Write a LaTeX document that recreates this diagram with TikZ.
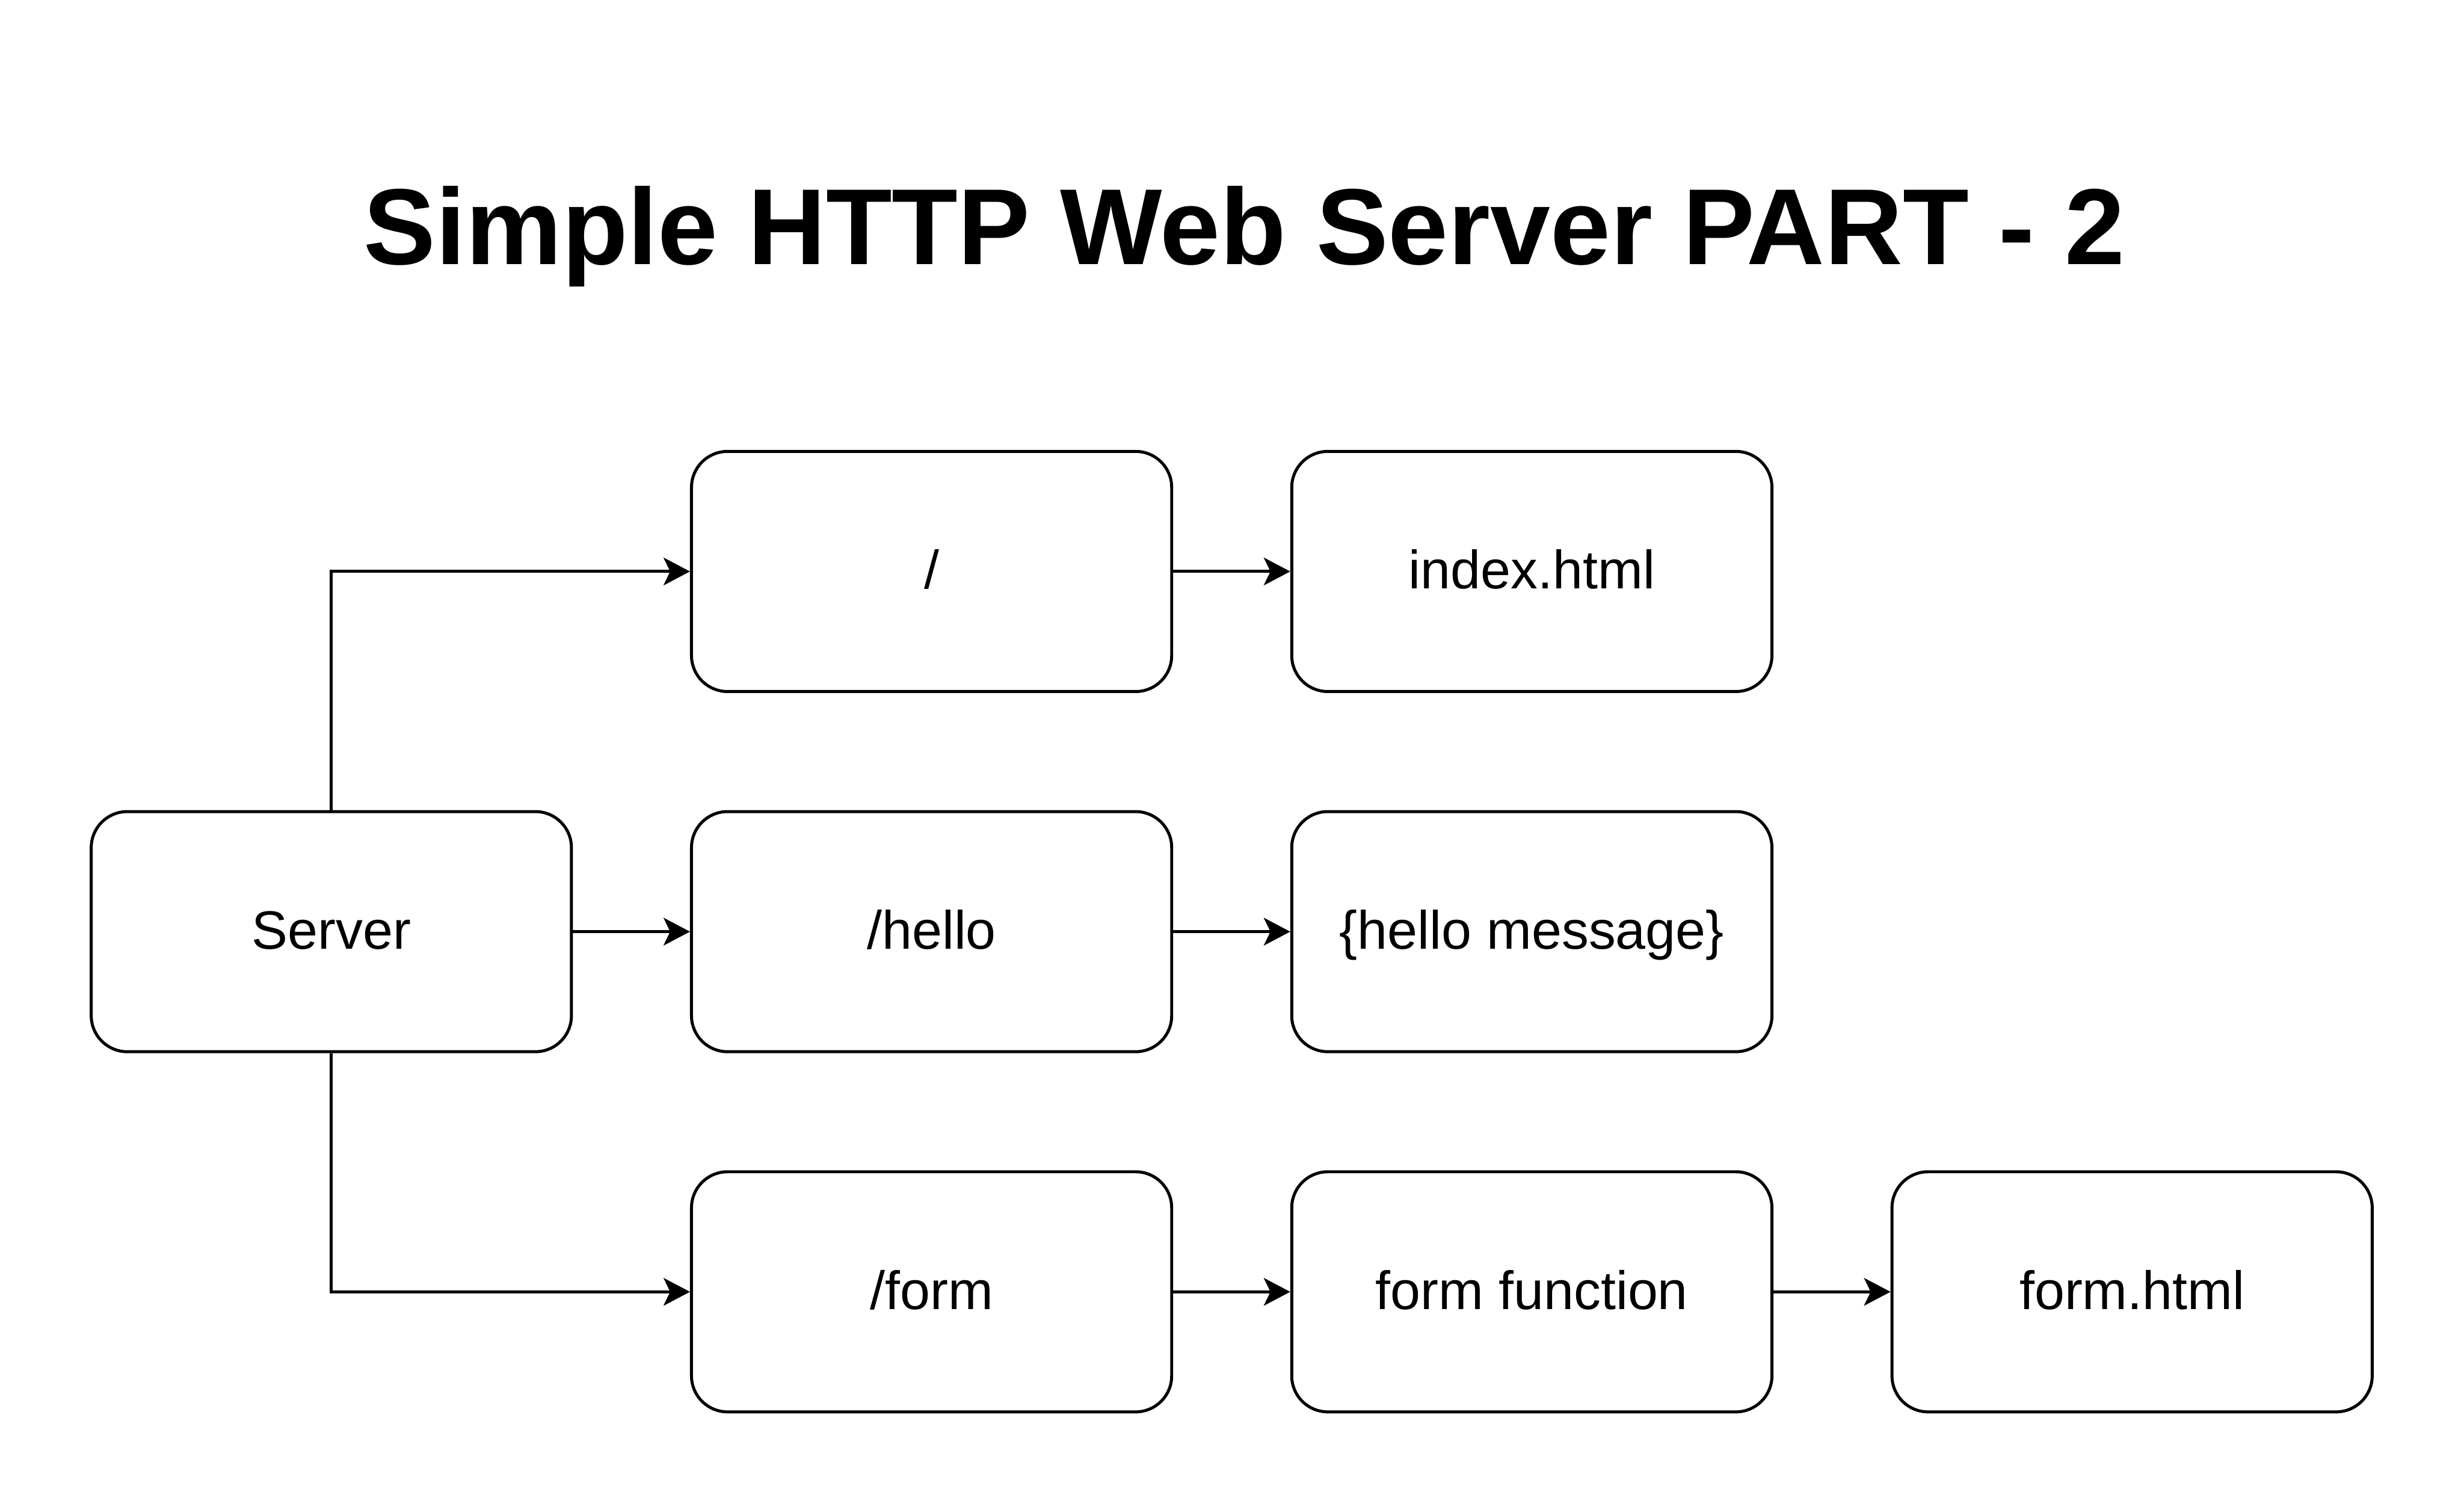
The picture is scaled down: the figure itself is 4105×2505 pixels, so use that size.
\documentclass[tikz,border=0pt]{standalone}
\usepackage{fontspec}
\setmainfont{Liberation Sans}
\usetikzlibrary{arrows.meta}
\begin{document}
\begin{tikzpicture}[x=1pt,y=-1pt,
  box/.style={draw=black, line width=5pt, rounded corners=60pt, minimum width=800pt, minimum height=400pt, inner sep=0pt, font=\fontsize{90}{108}\selectfont, text height=64pt, text depth=6pt},
  arr/.style={draw=black, line width=5pt, -{Stealth[length=44pt,width=46pt,inset=11pt]}},
  titlestyle/.style={font=\fontsize{180}{216}\selectfont\bfseries, inner sep=0pt, anchor=base}]
\useasboundingbox (0,0) rectangle (4105,2505);
\node[titlestyle] (title) at (2073,440) {Simple HTTP Web Server PART - 2};
\node[box] (server) at (552,1552) {Server};
\node[box] (root) at (1552,952) {/};
\node[box] (hello) at (1552,1552) {/hello};
\node[box] (form) at (1552,2152) {/form};
\node[box] (index) at (2552,952) {index.html};
\node[box] (msg) at (2552,1552) {\{hello message\}};
\node[box] (formfn) at (2552,2152) {form function};
\node[box] (formhtml) at (3552,2152) {form.html};
\draw[arr] (server.north) |- (root.west);
\draw[arr] (server.east) -- (hello.west);
\draw[arr] (server.south) |- (form.west);
\draw[arr] (root.east) -- (index.west);
\draw[arr] (hello.east) -- (msg.west);
\draw[arr] (form.east) -- (formfn.west);
\draw[arr] (formfn.east) -- (formhtml.west);
\end{tikzpicture}
\end{document}
